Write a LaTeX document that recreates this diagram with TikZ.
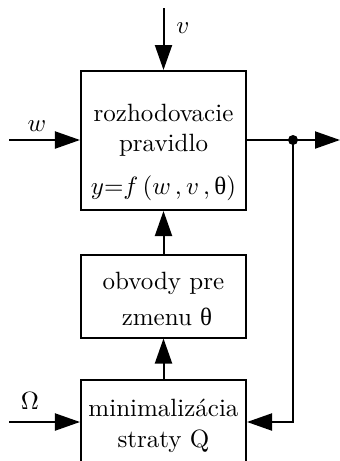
\documentclass[tikz,border=0pt]{standalone}
\usepackage{fontspec}
\newfontfamily\grk{Liberation Serif}
\usetikzlibrary{arrows.meta}
\newcommand{\uth}{\mbox{\grk θ}}
\begin{document}
\begin{tikzpicture}[x=0.4pt,y=-0.4pt,line width=0.8pt,
  blk/.style={draw,line width=0.8pt,inner sep=0pt},
  txt/.style={inner sep=0pt,font=\fontsize{10}{12}\selectfont},
  arr/.style={-{Triangle[length=10pt,width=6.8pt]}}]
\useasboundingbox (0,0) rectangle (340,461);
% boxes
\node[blk,minimum width=66pt,minimum height=55.6pt] (b1) at (163.5,140.5) {};
\node[blk,minimum width=66pt,minimum height=33.2pt] (b2) at (163.5,296) {};
\node[blk,minimum width=66pt,minimum height=40pt] (b3) at (163.5,430) {};
% texts
\node[txt] (t1a) at (163.5,113) {rozhodovacie};
\node[txt] (t1b) at (163.5,145) {pravidlo};
\node[txt] (t1c) at (163.5,188) {$y{=}f\,(w\,,v\,,\uth)$};
\node[txt] (t2a) at (163.5,283) {obvody pre};
\node[txt] (t2b) at (167,317) {zmenu \uth};
\node[txt] (t3a) at (163.5,408) {minimalizácia};
\node[txt] (t3b) at (163.5,441) {straty Q};
% inputs
\coordinate (vin) at (163.5,8);
\coordinate (win) at (9,140);
\coordinate (oin) at (9,422);
\coordinate (out) at (340,140);
\coordinate (dot) at (293,140);
\coordinate (fb) at (293,422);
\node[txt] (lv) at (183,28) {$v$};
\node[txt] (lw) at (37,126) {$w$};
\node[txt] (lo) at (30,401) {$\Omega$};
\draw[arr] (vin) -- (b1.north);
\draw[arr] (win) -- (b1.west |- win);
\draw[arr] (oin) -- (b3.west |- oin);
\draw[arr] (b1.east |- dot) -- (out);
\draw[arr] (dot) -- (fb) -- (b3.east |- fb);
\draw[arr] (b2.north) -- (b1.south);
\draw[arr] (b3.north) -- (b2.south);
\fill (dot) circle (2pt);
\end{tikzpicture}
\end{document}
